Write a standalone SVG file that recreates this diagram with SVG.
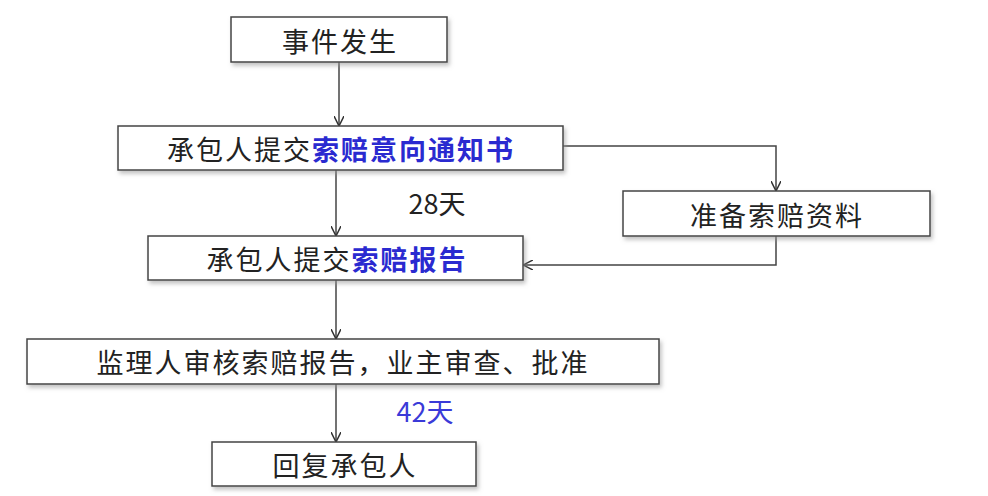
<svg xmlns="http://www.w3.org/2000/svg" width="988" height="496" viewBox="0 0 988 496">
<defs>
<marker id="ah" markerWidth="10" markerHeight="10" refX="9" refY="5" orient="auto" markerUnits="userSpaceOnUse"><path d="M0,0 L10,5 L0,10" fill="none" stroke="#333" stroke-width="1.5"/></marker>
<filter id="sh" x="-5%" y="-20%" width="110%" height="150%"><feDropShadow dx="2" dy="3" stdDeviation="2" flood-color="#999" flood-opacity="0.6"/></filter>
</defs>
<style>
.b{fill:#fff;stroke:#444;stroke-width:1.5;filter:url(#sh)}
.t{font-family:"Noto Sans CJK SC","Liberation Sans",sans-serif;font-size:27px;letter-spacing:2px;fill:#222;text-anchor:middle;dominant-baseline:central}
.h{fill:#2a2ad0;font-weight:bold}
.c{fill:none;stroke:#444;stroke-width:1.5}
</style>
<rect width="988" height="496" fill="#fff"/>
<g id="connectors">
<line class="c" x1="339" y1="62" x2="339" y2="125" marker-end="url(#ah)"/>
<line class="c" x1="336" y1="170" x2="336" y2="235" marker-end="url(#ah)"/>
<polyline class="c" points="563,146 776,146 776,190" marker-end="url(#ah)"/>
<polyline class="c" points="776,236 776,265 524,265" marker-end="url(#ah)"/>
<line class="c" x1="336" y1="280" x2="336" y2="338" marker-end="url(#ah)"/>
<line class="c" x1="336" y1="384" x2="336" y2="441" marker-end="url(#ah)"/>
<text class="t" x="437" y="202" style="letter-spacing:0">28天</text>
<text class="t" x="425" y="410" style="fill:#3a3ad8;letter-spacing:0">42天</text>
</g>
<g id="n1"><rect class="b" x="231" y="17" width="216" height="45"/><text class="t" x="340" y="40">事件发生</text></g>
<g id="n2"><rect class="b" x="118" y="126" width="445" height="44"/><text class="t" x="341" y="148">承包人提交<tspan class="h">索赔意向通知书</tspan></text></g>
<g id="n3"><rect class="b" x="623" y="191" width="307" height="45"/><text class="t" x="777" y="214">准备索赔资料</text></g>
<g id="n4"><rect class="b" x="148" y="236" width="375" height="44"/><text class="t" x="337" y="258">承包人提交<tspan class="h">索赔报告</tspan></text></g>
<g id="n5"><rect class="b" x="27" y="339" width="632" height="45"/><text class="t" x="343" y="361">监理人审核索赔报告，业主审查、批准</text></g>
<g id="n6"><rect class="b" x="212" y="442" width="264" height="44"/><text class="t" x="345" y="464">回复承包人</text></g>
</svg>
